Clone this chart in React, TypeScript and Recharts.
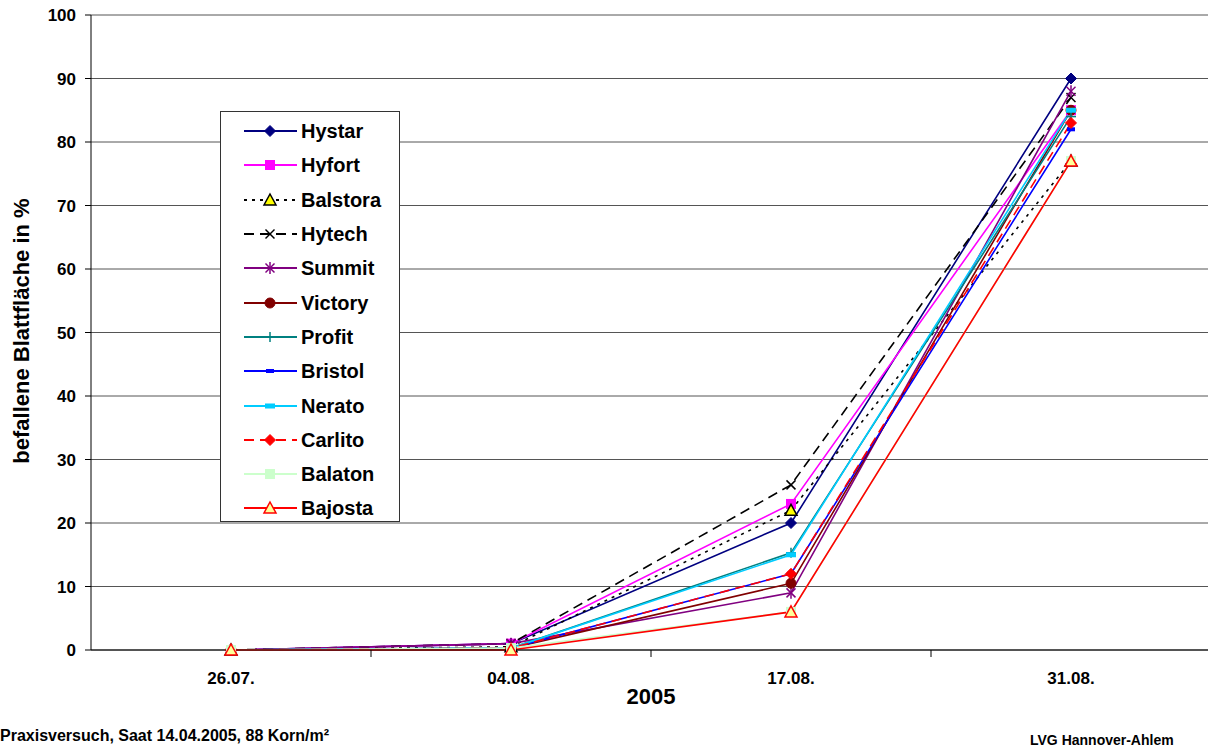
import React from 'react';
import { LineChart, Line, XAxis, YAxis, CartesianGrid, Legend } from 'recharts';

const dates = ['26.07.', '04.08.', '17.08.', '31.08.'];
const hystar = [0, 1, 20, 90];
const hyfort = [0, 1, 23, 85];
const balstora = [0, 0.5, 22, 77];
const hytech = [0, 1, 26, 87];
const summit = [0, 1, 9, 88];
const victory = [0, 0.3, 10.5, 85];
const profit = [0, 0.3, 15.3, 84];
const bristol = [0, 0.3, 12, 82];
const nerato = [0, 0.3, 15, 85];
const carlito = [0, 0.3, 12, 83];
const balaton = [0, 0.3, 6, 77];
const bajosta = [0, 0, 6, 77];
const yTicks = [0, 10, 20, 30, 40, 50, 60, 70, 80, 90, 100];
const xTicks = [0, 0.5, 1, 1.5, 2, 2.5, 3];

type Mk = 'diamond' | 'square' | 'triangle' | 'x' | 'star' | 'circle' | 'plus' | 'dash' | 'bar';

const series: { name: string; values: number[]; color: string; dash?: string; marker: Mk; fill: string }[] = [
  { name: 'Hystar', values: hystar, color: '#000080', marker: 'diamond', fill: '#000080' },
  { name: 'Hyfort', values: hyfort, color: '#FF00FF', marker: 'square', fill: '#FF00FF' },
  { name: 'Balstora', values: balstora, color: '#000000', dash: '3 5', marker: 'triangle', fill: '#FFFF00' },
  { name: 'Hytech', values: hytech, color: '#000000', dash: '10 6', marker: 'x', fill: 'none' },
  { name: 'Summit', values: summit, color: '#800080', marker: 'star', fill: 'none' },
  { name: 'Victory', values: victory, color: '#800000', marker: 'circle', fill: '#800000' },
  { name: 'Profit', values: profit, color: '#008080', marker: 'plus', fill: 'none' },
  { name: 'Bristol', values: bristol, color: '#0000FF', marker: 'dash', fill: '#0000FF' },
  { name: 'Nerato', values: nerato, color: '#00CCFF', marker: 'bar', fill: '#00CCFF' },
  { name: 'Carlito', values: carlito, color: '#FF0000', dash: '10 6', marker: 'diamond', fill: '#FF0000' },
  { name: 'Balaton', values: balaton, color: '#CCFFCC', marker: 'square', fill: '#CCFFCC' },
  { name: 'Bajosta', values: bajosta, color: '#FF0000', marker: 'triangle', fill: '#FFFF99' },
];

const data = dates.map((d, i) => {
  const row: Record<string, number | string> = { i, date: d };
  series.forEach((s) => (row[s.name] = s.values[i]));
  return row;
});

const FONT = '"Liberation Sans", Arial, sans-serif';

function Marker({ type, cx, cy, color, fill }: { type: Mk; cx: number; cy: number; color: string; fill: string }) {
  switch (type) {
    case 'diamond':
      return <polygon points={`${cx},${cy - 5.5} ${cx + 5.5},${cy} ${cx},${cy + 5.5} ${cx - 5.5},${cy}`} fill={fill} stroke={color} strokeWidth={1} />;
    case 'square':
      return <rect x={cx - 4.5} y={cy - 4.5} width={9} height={9} fill={fill} stroke={color} strokeWidth={1} />;
    case 'triangle':
      return <polygon points={`${cx},${cy - 6} ${cx + 6},${cy + 5} ${cx - 6},${cy + 5}`} fill={fill} stroke={color} strokeWidth={1.5} />;
    case 'x':
      return (
        <g stroke={color} strokeWidth={1.5}>
          <line x1={cx - 4.5} y1={cy - 4.5} x2={cx + 4.5} y2={cy + 4.5} />
          <line x1={cx - 4.5} y1={cy + 4.5} x2={cx + 4.5} y2={cy - 4.5} />
        </g>
      );
    case 'star':
      return (
        <g stroke={color} strokeWidth={1.5}>
          <line x1={cx - 4.5} y1={cy - 4.5} x2={cx + 4.5} y2={cy + 4.5} />
          <line x1={cx - 4.5} y1={cy + 4.5} x2={cx + 4.5} y2={cy - 4.5} />
          <line x1={cx} y1={cy - 6} x2={cx} y2={cy + 6} />
        </g>
      );
    case 'circle':
      return <circle cx={cx} cy={cy} r={5} fill={fill} stroke={color} strokeWidth={1} />;
    case 'plus':
      return (
        <g stroke={color} strokeWidth={1.5}>
          <line x1={cx - 5} y1={cy} x2={cx + 5} y2={cy} />
          <line x1={cx} y1={cy - 5} x2={cx} y2={cy + 5} />
        </g>
      );
    case 'dash':
      return <rect x={cx - 4} y={cy - 2} width={8} height={4} fill={fill} />;
    case 'bar':
      return <rect x={cx - 5} y={cy - 2.5} width={10} height={5} fill={fill} />;
  }
  return null;
}

function XTick(props: any) {
  const { x, y, payload } = props;
  const v = payload.value as number;
  if (Number.isInteger(v)) {
    return (
      <text x={x} y={y + 34} textAnchor="middle" fontSize={17} fontWeight="bold" fill="#000" fontFamily={FONT}>
        {dates[v]}
      </text>
    );
  }
  return <line x1={x} y1={y} x2={x} y2={y + 7} stroke="#000" strokeWidth={1} />;
}

function LegendBox() {
  return (
    <div
      style={{
        width: 180,
        height: 411,
        boxSizing: 'border-box',
        border: '1px solid #333',
        background: '#fff',
        fontFamily: FONT,
        paddingTop: 2,
      }}
    >
      {series.map((s) => (
        <div key={s.name} style={{ height: 34.3, display: 'flex', alignItems: 'center' }}>
          <svg width={80} height={24} style={{ display: 'block' }}>
            <line x1={23} y1={12} x2={76} y2={12} stroke={s.color} strokeWidth={1.8} strokeDasharray={s.dash} />
            <Marker type={s.marker} cx={49} cy={12} color={s.color} fill={s.fill} />
          </svg>
          <span style={{ fontSize: 20, fontWeight: 'bold', color: '#000', lineHeight: '24px' }}>{s.name}</span>
        </div>
      ))}
    </div>
  );
}

export default function App() {
  return (
    <div style={{ position: 'absolute', left: 0, top: 0, width: 1208, height: 749, overflow: 'hidden', background: '#fff', fontFamily: FONT }}>
      <LineChart width={1215} height={749} data={data} margin={{ top: 15, right: 4, bottom: 69, left: 31 }}>
        <CartesianGrid vertical={false} stroke="#555" strokeWidth={1} />
        <XAxis
          dataKey="i"
          type="number"
          domain={[-0.5, 3.5]}
          ticks={xTicks}
          interval={0}
          tickLine={false}
          tickSize={0}
          tickMargin={0}
          tick={<XTick />}
          axisLine={{ stroke: '#000' }}
          height={30}
        />
        <YAxis
          domain={[0, 100]}
          ticks={yTicks}
          interval={0}
          width={60}
          tickSize={6}
          tickMargin={9}
          axisLine={{ stroke: '#000' }}
          tickLine={{ stroke: '#000' }}
          tick={{ fontSize: 17, fontWeight: 'bold', fill: '#000', fontFamily: FONT }}
        />
        <Legend
          layout="vertical"
          align="center"
          verticalAlign="middle"
          content={() => <LegendBox />}
          wrapperStyle={{ position: 'absolute', left: 220, top: 111, width: 180, height: 411 }}
        />
        {series.map((s) => (
          <Line
            key={s.name}
            dataKey={s.name}
            stroke={s.color}
            strokeWidth={1.6}
            strokeDasharray={s.dash}
            isAnimationActive={false}
            dot={(p: any) => <Marker key={`${s.name}-${p.index}`} type={s.marker} cx={p.cx} cy={p.cy} color={s.color} fill={s.fill} />}
            activeDot={false}
          />
        ))}
      </LineChart>
      <div
        style={{
          position: 'absolute',
          left: 22,
          top: 331,
          transform: 'translate(-50%, -50%) rotate(-90deg)',
          whiteSpace: 'nowrap',
          fontSize: 22,
          fontWeight: 'bold',
          color: '#000',
        }}
      >
        befallene Blattfläche in %
      </div>
      <div
        style={{
          position: 'absolute',
          left: 651,
          top: 697,
          transform: 'translate(-50%, -50%)',
          whiteSpace: 'nowrap',
          fontSize: 22,
          fontWeight: 'bold',
          color: '#000',
        }}
      >
        2005
      </div>
      <div style={{ position: 'absolute', left: 0, top: 726, whiteSpace: 'nowrap', fontSize: 16, fontWeight: 'bold', color: '#000', lineHeight: '20px' }}>
        Praxisversuch, Saat 14.04.2005, 88 Korn/m²
      </div>
      <div style={{ position: 'absolute', left: 1030, top: 731, whiteSpace: 'nowrap', fontSize: 14, fontWeight: 'bold', color: '#000', lineHeight: '18px' }}>
        LVG Hannover-Ahlem
      </div>
    </div>
  );
}
